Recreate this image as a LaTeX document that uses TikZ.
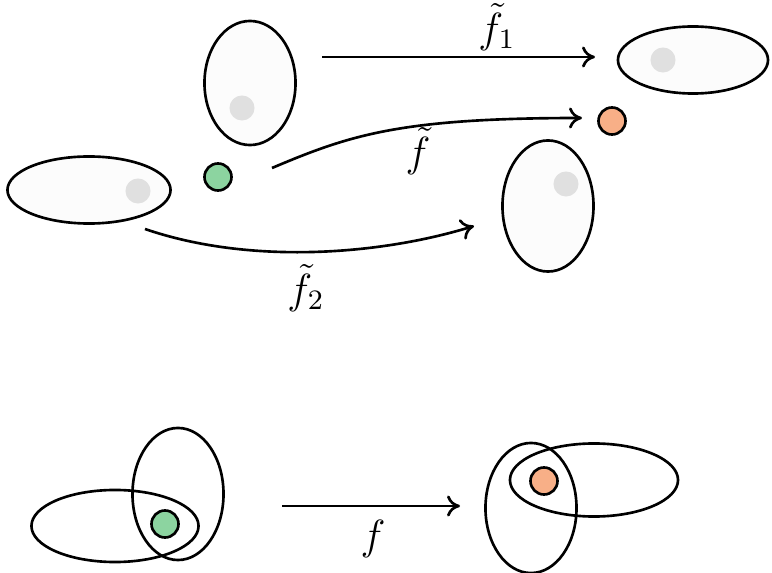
\documentclass[tikz,border=0pt]{standalone}
\usepackage{amsmath,amssymb}
\usetikzlibrary{shapes.geometric,arrows.meta}
\definecolor{dotgreen}{RGB}{140,212,160}
\definecolor{dotorange}{RGB}{248,175,135}

\begin{document}
\begin{tikzpicture}[
  x=0.01cm, y=-0.01cm,
  every node/.style={font=\large},
  blob/.style={
    draw=black,
    line width=0.75pt,
    ellipse,
    inner sep=0pt,
    fill=black!1,
    minimum width=#1
  },
  pt/.style={
    circle,
    draw=black,
    line width=0.75pt,
    inner sep=0pt,
    minimum size=0.27cm,
    fill=#1
  },
  ghost/.style={circle, inner sep=0pt, minimum size=0.25cm, fill=black!12},
  arrow/.style={-{To[length=1.3mm,width=2.1mm]}, line width=0.75pt}
]
\useasboundingbox (0,0) rectangle (772,573);

% top: the pieces
\node[blob=0.91cm, minimum height=1.24cm] (upA) at (250,83) {};
\node[blob=1.63cm, minimum height=0.67cm] (leftA) at (89,190) {};
\node[blob=1.50cm, minimum height=0.67cm] (upB) at (693,60) {};
\node[blob=0.91cm, minimum height=1.31cm] (rightB) at (548,206) {};

\node[ghost] (gA) at (242,108) {};
\node[ghost] (gL) at (138,191) {};
\node[ghost] (gB) at (663,60) {};
\node[ghost] (gR) at (566,184) {};

\node[pt=dotgreen] (src) at (218,177) {};
\node[pt=dotorange] (dst) at (612,121) {};

\coordinate (a1) at (322,57);
\coordinate (b1) at (595,57);
\coordinate (a0) at (272,168);
\coordinate (b0) at (582,118);
\coordinate (a2) at (145,229);
\coordinate (b2) at (474,226);

\draw[arrow] (a1) -- (b1);
\draw[arrow] (a0) .. controls (350,135) and (400,118) .. (b0);
\draw[arrow] (a2) .. controls (250,265) and (380,255) .. (b2);

\node (lab1) at (497,27) {$\tilde{f}_1$};
\node (lab0) at (418,151) {$\tilde{f}$};
\node (lab2) at (306,288) {$\tilde{f}_2$};

% bottom: glued together
\node[blob=1.67cm, minimum height=0.72cm, fill=none] (lowL) at (115,526) {};
\node[blob=0.91cm, minimum height=1.32cm, fill=none] (upL) at (178,494) {};
\node[pt=dotgreen] (srcL) at (165,524) {};

\node[blob=0.91cm, minimum height=1.30cm, fill=none] (lowR) at (531,508) {};
\node[blob=1.68cm, minimum height=0.73cm, fill=none] (upR) at (594,480) {};
\node[pt=dotorange] (dstR) at (544,481) {};

\coordinate (a3) at (282,506);
\coordinate (b3) at (460,506);
\draw[arrow] (a3) -- (b3);
\node (labf) at (373,539) {$f$};
\end{tikzpicture}
\end{document}
